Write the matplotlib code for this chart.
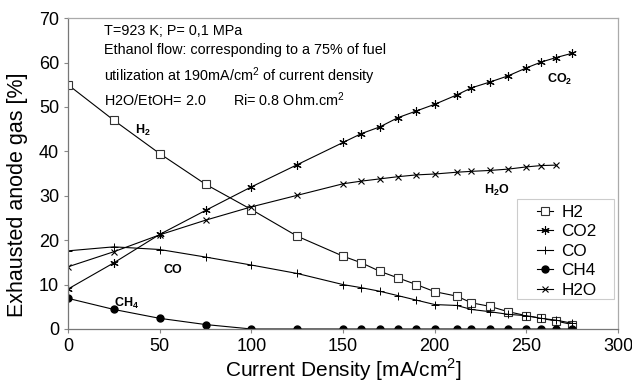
import numpy as np
from matplotlib import pyplot as plt
from matplotlib.patches import Rectangle

plt.rcParams['font.family'] = ['Liberation Sans', 'DejaVu Sans']
plt.rcParams['mathtext.fontset'] = 'custom'
plt.rcParams['mathtext.rm'] = 'Liberation Sans'
plt.rcParams['mathtext.bf'] = 'Liberation Sans:bold'

# current density [mA/cm2]
x = [0, 25, 50, 75, 100, 125, 150, 160, 170, 180, 190, 200, 212, 220, 230, 240, 250, 258, 266, 275]

h2 = [55, 47, 39.5, 32.6, 26.9, 20.9, 16.4, 14.9, 13.0, 11.5, 10.0, 8.4, 7.4, 5.9, 5.1, 3.9, 3.0, 2.4, 1.8, 1.0]
co2 = [9.0, 14.9, 21.3, 26.7, 32.0, 37.0, 42.0, 44.0, 45.5, 47.6, 49.1, 50.6, 52.7, 54.3, 55.6, 57.0, 58.8, 60.1, 61.1, 62.1]
co = [17.6, 18.5, 17.9, 16.2, 14.4, 12.5, 10.0, 9.3, 8.5, 7.5, 6.5, 5.5, 5.3, 4.4, 3.9, 3.3, 3.0, 2.4, 2.0, 1.3]
ch4 = [6.9, 4.4, 2.4, 1.0, 0, 0, 0, 0, 0, 0, 0, 0, 0, 0, 0, 0, 0, 0, 0, 0]
x_h2o = x[:-1]
h2o = [14.0, 17.4, 21.2, 24.5, 27.5, 30.1, 32.7, 33.3, 33.8, 34.3, 34.7, 34.9, 35.3, 35.5, 35.7, 36.0, 36.5, 36.8, 36.9]

fig = plt.figure(figsize=(6.32, 3.86), dpi=100)
ax = fig.add_axes([0.1076, 0.1477, 0.8704, 0.8053])

lw = 0.8
ax.plot(x, h2, color='black', lw=lw, marker='s', ms=5.5, mfc='white', mec='#333333', mew=0.8, label='H2')
ax.plot(x, co2, color='black', lw=lw, marker=(6, 2, 0), ms=6, mec='black', mew=0.8, label='CO2')
ax.plot(x, co, color='black', lw=lw, marker='+', ms=6, mew=0.7, label='CO')
ax.plot(x, ch4, color='black', lw=lw, marker='o', ms=5, label='CH4')
ax.plot(x_h2o, h2o, color='black', lw=lw, marker='x', ms=5, mew=0.8, label='H2O')

ax.set_xlim(0, 300)
ax.set_ylim(0, 70)
ax.set_xticks(np.arange(0, 301, 50))
ax.set_yticks(np.arange(0, 71, 10))
ax.tick_params(labelsize=13, length=3, color='#888888', width=0.8)
for s in ax.spines.values():
    s.set_color('#aaaaaa')
    s.set_linewidth(0.9)
ax.spines['left'].set_color('#777777')
ax.spines['bottom'].set_color('#777777')

ax.set_xlabel('Current Density [mA/cm$^2$]', fontsize=15, labelpad=1)
ax.set_ylabel('Exhausted anode gas [%]', fontsize=15.5)
ax.yaxis.set_label_coords(-0.072, 0.431)

info = ['T=923 K; P= 0,1 MPa',
        'Ethanol flow: corresponding to a 75% of fuel',
        'utilization at 190mA/cm$^2$ of current density',
        'H2O/EtOH= 2.0       Ri= 0.8 Ohm.cm$^2$']
info_y = [67.1, 62.9, 56.9, 51.7]
for t, yy in zip(info, info_y):
    ax.text(19.6, yy, t, fontsize=10.4, va='center', ha='left')

ax.text(40.8, 44.8, r'$\mathbf{H_2}$', fontsize=9, ha='center', va='center')
ax.text(268, 56.3, r'$\mathbf{CO_2}$', fontsize=9, ha='center', va='center')
ax.text(234, 31.3, r'$\mathbf{H_2O}$', fontsize=9, ha='center', va='center')
ax.text(57, 13.3, 'CO', fontsize=9, fontweight='bold', ha='center', va='center')
ax.text(32, 5.8, r'$\mathbf{CH_4}$', fontsize=9, ha='center', va='center')

# legend box drawn separately (wide left margin as in the original)
ax.add_patch(Rectangle((0.816, 0.096), 0.177, 0.322, transform=ax.transAxes,
                       facecolor='white', edgecolor='#cccccc', lw=0.8, zorder=4))
leg = ax.legend(loc='upper left', bbox_to_anchor=(0.853, 0.399), fontsize=12.3,
                handlelength=0.95, handletextpad=0.45, borderpad=0, borderaxespad=0,
                labelspacing=0.26, frameon=False)
leg.set_zorder(5)

fig.savefig('out.png', dpi=100)
